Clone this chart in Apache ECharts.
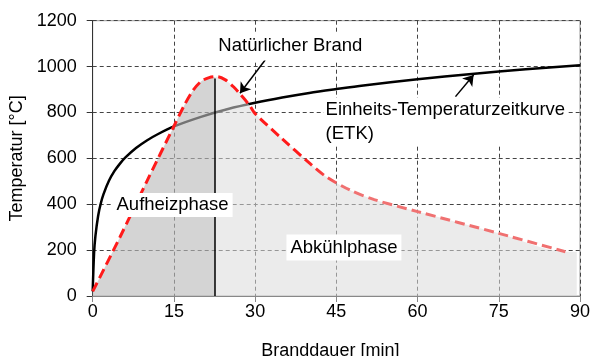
<!DOCTYPE html>
<html>
<head>
<meta charset="utf-8">
<script src="https://cdn.jsdelivr.net/npm/echarts@6/dist/echarts.min.js"></script>
<style>
  html, body { margin: 0; padding: 0; background: #fff; }
  #chart { width: 593px; height: 356px; }
</style>
</head>
<body>
<div id="chart"></div>
<script>
// Einheits-Temperaturzeitkurve (ETK)
var etkTime = [0, 0.25, 0.5, 1, 1.5, 2, 3, 4, 5, 6, 8, 10, 12, 15, 20, 25, 30, 35, 40, 45, 50, 60, 70, 80, 90];
var etkTemp = [20, 185, 261, 349, 404, 444, 502, 544, 576, 603, 645, 678, 705, 739, 781, 815, 842, 865, 885, 902, 918, 945, 968, 988, 1006];

// natural fire curve (red dashed)
var fireTime = [0, 5, 10, 15, 17, 18.5, 20, 21.5, 23, 24.5, 26, 27.2, 29, 30, 35, 40, 43, 47.5, 52, 60, 75, 87.3];
var fireTemp = [20, 255, 500, 740, 835, 895, 935, 952, 956, 942, 912, 881, 830, 795, 685, 580, 522, 462, 420, 368, 273, 193];

// end of heating phase and end of the shaded region
var phaseEnd = 22.6;
var phaseEndTemp = 954;
var shadeEnd = 89.4;
var shadeEndTemp = 193;

var xTicks = [0, 15, 30, 45, 60, 75, 90];
var yTicks = [0, 200, 400, 600, 800, 1000, 1200];

var font = 'Liberation Sans, Arial, sans-serif';

function pairs(xs, ys) {
    return xs.map(function (x, i) { return [x, ys[i]]; });
}

var fire = pairs(fireTime, fireTemp);
var heating = fire.filter(function (p) { return p[0] < phaseEnd; });
heating.push([phaseEnd, phaseEndTemp]);
var cooling = [[phaseEnd, phaseEndTemp]].concat(fire.filter(function (p) { return p[0] > phaseEnd; }));
cooling.push([shadeEnd, shadeEndTemp]);

var mychart = echarts.init(document.getElementById('chart'));

function textMark(text, coord, pos, pad) {
    return {
        coord: coord,
        symbol: 'rect',
        symbolSize: 1,
        itemStyle: { color: 'rgba(0,0,0,0)' },
        label: {
            show: true,
            position: pos,
            distance: 0,
            formatter: text,
            color: '#000',
            fontSize: 18.5,
            fontFamily: font,
            lineHeight: 24,
            backgroundColor: '#fff',
            padding: pad
        }
    };
}

var option = {
    animation: false,
    grid: {
        left: 92.7,
        right: 13,
        top: 20.7,
        bottom: 60,
        outerBoundsMode: 'none',
        show: true,
        borderColor: '#999',
        borderWidth: 1
    },
    xAxis: {
        type: 'value',
        min: xTicks[0],
        max: xTicks[xTicks.length - 1],
        interval: 15,
        name: 'Branddauer [min]',
        nameLocation: 'middle',
        nameGap: 46,
        nameTextStyle: { color: '#000', fontSize: 18, fontFamily: font, padding: [0, 12, 0, 0] },
        axisLine: { lineStyle: { color: '#888', width: 1 } },
        axisTick: { show: true, length: 6, lineStyle: { color: '#888' } },
        axisLabel: { color: '#000', fontSize: 18, fontFamily: font, margin: 7 },
        splitLine: { show: true, lineStyle: { color: '#444', type: [4, 3], width: 1 } }
    },
    yAxis: {
        type: 'value',
        min: yTicks[0],
        max: yTicks[yTicks.length - 1],
        interval: 200,
        name: 'Temperatur [°C]',
        nameLocation: 'middle',
        nameGap: 64,
        nameTextStyle: { color: '#000', fontSize: 18, fontFamily: font },
        axisLine: { show: true, lineStyle: { color: '#333', width: 1 } },
        axisTick: { show: true, length: 6, lineStyle: { color: '#333' } },
        axisLabel: {
            color: '#000', fontSize: 18, fontFamily: font, margin: 16,
            formatter: function (v) { return String(v); }
        },
        splitLine: { show: true, lineStyle: { color: '#444', type: [4, 3], width: 1 } }
    },
    series: [
        {
            name: 'ETK',
            type: 'line',
            z: 2,
            smooth: 0.3,
            showSymbol: false,
            data: pairs(etkTime, etkTemp),
            lineStyle: { color: '#000', width: 2.5 }
        },
        {
            name: 'Aufheizphase',
            type: 'line',
            z: 3,
            smooth: 0.3,
            showSymbol: false,
            data: heating,
            lineStyle: { width: 0 },
            areaStyle: { color: 'rgba(185,185,185,0.62)', opacity: 1 },
            markLine: {
                silent: true,
                symbol: 'none',
                label: { show: false },
                lineStyle: { color: '#000', width: 1.5, type: 'solid' },
                data: [[{ coord: [phaseEnd, 0] }, { coord: [phaseEnd, 948] }]]
            }
        },
        {
            name: 'Abkühlphase',
            type: 'line',
            z: 3,
            smooth: 0.3,
            showSymbol: false,
            data: cooling,
            lineStyle: { width: 0 },
            areaStyle: { color: 'rgba(219,219,219,0.55)', opacity: 1 }
        },
        {
            name: 'Natürlicher Brand',
            type: 'line',
            z: 4,
            smooth: 0.3,
            showSymbol: false,
            data: fire,
            lineStyle: {
                width: 3,
                type: [10, 5],
                color: new echarts.graphic.LinearGradient(0, 0, 1, 0, [
                    { offset: 0, color: '#ff1a1a' },
                    { offset: 0.45, color: '#ff1a1a' },
                    { offset: 0.53, color: '#f07272' },
                    { offset: 1, color: '#f07070' }
                ])
            }
        },
        {
            name: 'annotations',
            type: 'line',
            z: 10,
            data: [],
            markLine: {
                silent: true,
                symbol: ['none', 'arrow'],
                symbolSize: 10,
                label: { show: false },
                lineStyle: { color: '#000', width: 1.5, type: 'solid' },
                data: [
                    [{ coord: [31.85, 1029] }, { coord: [27.2, 884] }],
                    [{ coord: [67.0, 869] }, { coord: [70.35, 963] }]
                ]
            },
            markPoint: {
                silent: true,
                data: [
                    textMark('Natürlicher Brand', [36.5, 1088], 'inside', [2, 2]),
                    textMark('Aufheizphase', [14.75, 397], 'inside', [0, 4]),
                    textMark('Abkühlphase', [46.4, 211], 'inside', [1, 4]),
                    textMark('Einheits-Temperaturzeitkurve\n(ETK)', [42.55, 758], 'right', [0, 2])
                ]
            }
        }
    ]
};

mychart.setOption(option);
</script>
</body>
</html>
